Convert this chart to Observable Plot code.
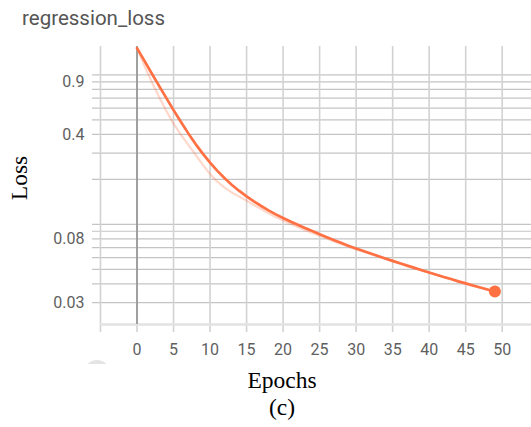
<!DOCTYPE html>
<html>
<head>
<meta charset="utf-8">
<script src="https://cdn.jsdelivr.net/npm/d3@7"></script>
<script src="https://cdn.jsdelivr.net/npm/@observablehq/plot@0.6"></script>
<style>
  html, body { margin: 0; padding: 0; background: #fff; }
  #wrap { position: relative; width: 531px; height: 427px; overflow: hidden; }
  #chart { position: absolute; left: 0; top: 0; }
  .title { position: absolute; left: 22px; top: 8px; font-family: Roboto, sans-serif; font-size: 20.5px; line-height: 1; color: #555; white-space: nowrap; }
  .serif { position: absolute; font-family: "Liberation Serif", "Times New Roman", serif; font-size: 23.5px; line-height: 1; color: #000; white-space: nowrap; }
  #ylab { left: 20px; top: 178px; transform: translate(-50%, -50%) rotate(-90deg); }
  #xlab { left: 282px; top: 369px; transform: translateX(-50%); }
  #cap { left: 282px; top: 396px; transform: translateX(-50%); }
  #blob { position: absolute; left: 84px; top: 360px; width: 26px; height: 4px; overflow: hidden; }
  #blob div { width: 26px; height: 26px; border-radius: 50%; background: #e4e4e4; }
</style>
</head>
<body>
<div id="wrap">
  <div id="chart"></div>
  <div class="title">regression_loss</div>
  <div class="serif" id="ylab">Loss</div>
  <div class="serif" id="xlab">Epochs</div>
  <div class="serif" id="cap">(c)</div>
  <div id="blob"><div></div></div>
</div>
<script>
// ---- data ----
const epochs = [0,1,2,3,4,5,6,7,8,9,10,11,12,13,14,15,16,17,18,19,20,21,22,23,24,25,26,27,28,29,30,31,32,33,34,35,36,37,38,39,40,41,42,43,44,45,46,47,48,49];
const smoothedLoss = [1.513,1.246,1.027,0.848,0.702,0.582,0.486,0.408,0.346,0.2976,0.259,0.2283,0.2037,0.1837,0.1675,0.1539,0.1425,0.1328,0.1242,0.1168,0.1104,0.1046,0.0994,0.0946,0.0903,0.0861,0.0821,0.0784,0.0750,0.0718,0.0689,0.0663,0.0638,0.0614,0.0591,0.0570,0.0549,0.0530,0.0512,0.0494,0.0477,0.0461,0.0445,0.0431,0.0416,0.0403,0.0390,0.0378,0.0367,0.0356];
const rawLoss = [1.513,1.154,0.902,0.716,0.577,0.472,0.399,0.342,0.293,0.251,0.217,0.1933,0.1763,0.1632,0.1535,0.1443,0.1350,0.1266,0.1190,0.1122,0.1064,0.1009,0.0961,0.0916,0.0876,0.0839,0.0804,0.0770,0.0738,0.0709,0.0681,0.0657,0.0633,0.0610,0.0588,0.0566,0.0547,0.0528,0.0509,0.0491,0.0475,0.0459,0.0443,0.0429,0.0414,0.0401,0.0388,0.0377,0.0365,0.0355];
const xTicks = [0,5,10,15,20,25,30,35,40,45,50];
const xGrid = [-5,0,5,10,15,20,25,30,35,40,45,50];
const yTicks = [0.9,0.4,0.08,0.03];
const yTickLabels = ["0.9","0.4","0.08","0.03"];
const yGrid = [1,0.9,0.8,0.7,0.6,0.5,0.4,0.3,0.2,0.1,0.09,0.08,0.07,0.06,0.05,0.04,0.03];
const xLimits = [-5, 50];
const yLimits = [0.0214, 1.55];

const rows = epochs.map((e, i) => ({epoch: e, smoothed: smoothedLoss[i], raw: rawLoss[i]}));
const last = rows[rows.length - 1];
const yLabelRows = yTicks.map((v, i) => ({v, label: yTickLabels[i]}));
const orange = "#ff7043";

const chart = Plot.plot({
  width: 531,
  height: 427,
  marginTop: 46,
  marginLeft: 92,
  marginRight: 0,
  marginBottom: 95,
  style: {fontFamily: "Roboto, sans-serif", fontSize: "16px", color: "#5f5f5f", background: "transparent"},
  x: {domain: xLimits, range: [100, 501.7]},
  y: {type: "log", domain: yLimits, range: [324, 46], axis: null},
  marks: [
    Plot.ruleY(yGrid, {stroke: "#c4c4c4", strokeWidth: 1.2}),
    Plot.ruleX(xGrid, {stroke: "#d2d2d2", strokeWidth: 1.6}),
    Plot.ruleY([yLimits[0]], {x1: xLimits[0], x2: 60, stroke: "#e2e2e2", strokeWidth: 2.5}),
    Plot.ruleX([0], {y1: yLimits[0], y2: yLimits[1], stroke: "#8c8c8c", strokeWidth: 1.5}),
    Plot.line(rows, {x: "epoch", y: "raw", stroke: orange, strokeOpacity: 0.28, strokeWidth: 2.2}),
    Plot.line(rows, {x: "epoch", y: "smoothed", stroke: orange, strokeWidth: 2.7}),
    Plot.dot([last], {x: "epoch", y: "smoothed", r: 6, fill: orange, stroke: "none"}),
    Plot.axisX({ticks: xTicks, tickSize: 0, tickPadding: 11.5, fontSize: 16, label: null, tickFormat: d => String(d)}),
    Plot.text(yLabelRows, {y: "v", text: "label", frameAnchor: "left", textAnchor: "end", dx: -8, fontSize: 16, fill: "currentColor"})
  ]
});
document.getElementById("chart").appendChild(chart);
</script>
</body>
</html>
